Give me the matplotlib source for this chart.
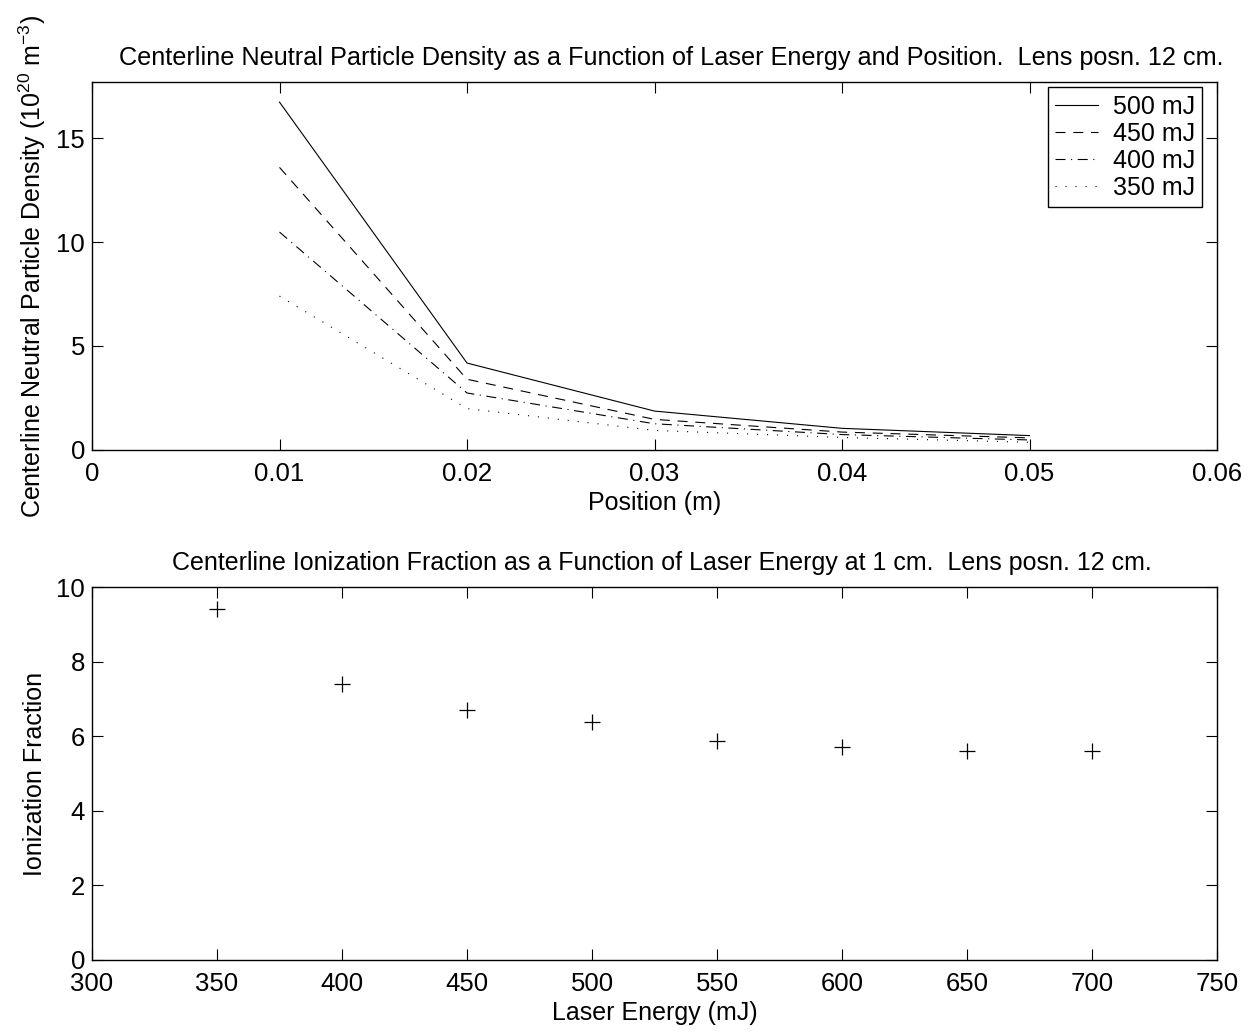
import matplotlib
matplotlib.use('Agg')
import matplotlib.pyplot as plt
from matplotlib.ticker import FuncFormatter

plt.rcParams['font.family'] = ['Liberation Sans', 'DejaVu Sans']
plt.rcParams['mathtext.fontset'] = 'custom'
plt.rcParams['mathtext.rm'] = 'Liberation Sans'
plt.rcParams['mathtext.default'] = 'regular'
plt.rcParams['font.size'] = 18

# top panel: neutral density vs position
position = [0.01, 0.02, 0.03, 0.04, 0.05]
dens_500 = [16.73, 4.18, 1.87, 1.04, 0.69]
dens_450 = [13.59, 3.40, 1.47, 0.86, 0.58]
dens_400 = [10.48, 2.74, 1.26, 0.74, 0.48]
dens_350 = [7.40, 1.99, 0.94, 0.60, 0.37]
labels = ['500 mJ', '450 mJ', '400 mJ', '350 mJ']

# bottom panel: ionization fraction vs laser energy
energy = [350, 400, 450, 500, 550, 600, 650, 700]
ion_frac = [9.40, 7.39, 6.70, 6.39, 5.88, 5.72, 5.61, 5.61]

fig = plt.figure(figsize=(12.5, 10.32), dpi=100)
ax0 = fig.add_axes([0.0736, 0.564, 0.9, 0.3566])
ax1 = fig.add_axes([0.0736, 0.0698, 0.9, 0.3614])

styles = ['-', (0, (9, 7)), (0, (9, 5, 1, 5)), (0, (1, 8))]
for d, lab, ls in zip([dens_500, dens_450, dens_400, dens_350], labels, styles):
    ax0.plot(position, d, color='k', lw=0.8, linestyle=ls, label=lab)

ax0.set_xlim(0, 0.06)
ax0.set_ylim(0, 17.7)
ax0.set_xticks([0, 0.01, 0.02, 0.03, 0.04, 0.05, 0.06])
ax0.set_yticks([0, 5, 10, 15])
ax0.xaxis.set_major_formatter(FuncFormatter(lambda v, p: '%g' % round(v, 4)))
ax0.set_xlabel('Position (m)', labelpad=3)
ax0.set_ylabel('Centerline Neutral Particle Density (10$^{20}$ m$^{-3}$)', labelpad=6)
ax0.set_title('Centerline Neutral Particle Density as a Function of Laser Energy and Position.  Lens posn. 12 cm.',
              fontsize=18.2, pad=12, x=0.515)
leg = ax0.legend(loc='upper right', bbox_to_anchor=(0.987, 0.985), fancybox=False, edgecolor='k',
                 framealpha=1, handlelength=1.7, borderaxespad=0, labelspacing=0.12, borderpad=0.3,
                 handletextpad=0.6, fontsize=18)
leg.get_frame().set_linewidth(1.0)

ax1.plot(energy, ion_frac, linestyle='none', marker='+', color='k', markersize=11, markeredgewidth=0.9)
ax1.set_xlim(300, 750)
ax1.set_ylim(0, 10)
ax1.set_xticks(range(300, 751, 50))
ax1.set_yticks(range(0, 11, 2))
ax1.set_xlabel('Laser Energy (mJ)', labelpad=3)
ax1.set_ylabel('Ionization Fraction', labelpad=7)
ax1.set_title('Centerline Ionization Fraction as a Function of Laser Energy at 1 cm.  Lens posn. 12 cm.',
              fontsize=18.0, pad=12, x=0.507)

for ax in (ax0, ax1):
    ax.tick_params(direction='in', top=True, right=True, length=8, width=0.8, labelsize=18.5)
    ax.tick_params(axis='x', pad=9)
    ax.tick_params(axis='y', pad=5)
    for s in ax.spines.values():
        s.set_linewidth(1.0)

fig.savefig('out.png', dpi=100)
